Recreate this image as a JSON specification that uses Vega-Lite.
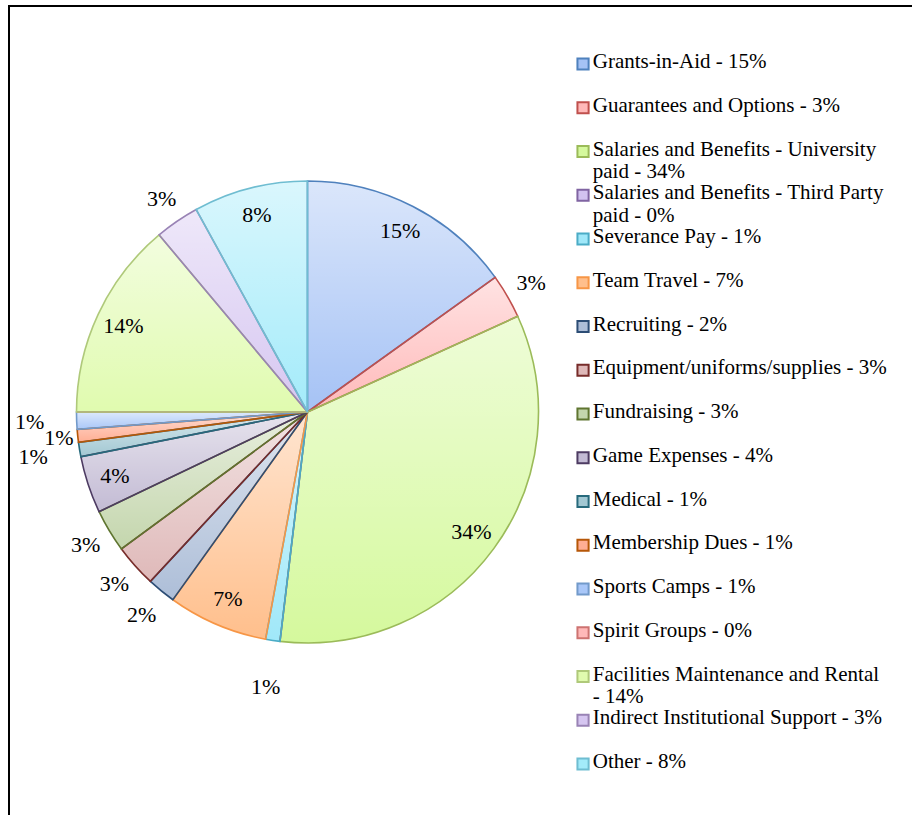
{
  "$schema": "https://vega.github.io/schema/vega-lite/v6.json",
  "width": 910,
  "height": 812,
  "padding": {"left": 9, "top": 6, "right": 0, "bottom": 0},
  "autosize": {"type": "none"},
  "background": "white",
  "config": {
    "view": {"stroke": "#000000", "strokeWidth": 2},
    "font": "Liberation Serif",
    "text": {"font": "Liberation Serif", "fontSize": 21, "color": "#000000"}
  },
  "data": {
    "values": [
      {"i": 1, "cat": "Grants-in-Aid", "value": 15.1, "pie": "15%", "leg": "Grants-in-Aid - 15%"},
      {"i": 2, "cat": "Guarantees and Options", "value": 3.1, "pie": "3%", "leg": "Guarantees and Options - 3%"},
      {"i": 3, "cat": "Salaries and Benefits - University paid", "value": 33.7, "pie": "34%", "leg": "Salaries and Benefits - University\npaid - 34%"},
      {"i": 4, "cat": "Salaries and Benefits - Third Party paid", "value": 0, "pie": "", "leg": "Salaries and Benefits - Third Party\npaid - 0%"},
      {"i": 5, "cat": "Severance Pay", "value": 1.0, "pie": "1%", "leg": "Severance Pay - 1%"},
      {"i": 6, "cat": "Team Travel", "value": 7.0, "pie": "7%", "leg": "Team Travel - 7%"},
      {"i": 7, "cat": "Recruiting", "value": 2.0, "pie": "2%", "leg": "Recruiting - 2%"},
      {"i": 8, "cat": "Equipment/uniforms/supplies", "value": 3.0, "pie": "3%", "leg": "Equipment/uniforms/supplies - 3%"},
      {"i": 9, "cat": "Fundraising", "value": 3.0, "pie": "3%", "leg": "Fundraising - 3%"},
      {"i": 10, "cat": "Game Expenses", "value": 4.0, "pie": "4%", "leg": "Game Expenses - 4%"},
      {"i": 11, "cat": "Medical", "value": 1.0, "pie": "1%", "leg": "Medical - 1%"},
      {"i": 12, "cat": "Membership Dues", "value": 0.9, "pie": "1%", "leg": "Membership Dues - 1%"},
      {"i": 13, "cat": "Sports Camps", "value": 1.2, "pie": "1%", "leg": "Sports Camps - 1%"},
      {"i": 14, "cat": "Spirit Groups", "value": 0, "pie": "", "leg": "Spirit Groups - 0%"},
      {"i": 15, "cat": "Facilities Maintenance and Rental", "value": 13.9, "pie": "14%", "leg": "Facilities Maintenance and Rental\n- 14%"},
      {"i": 16, "cat": "Indirect Institutional Support", "value": 3.1, "pie": "3%", "leg": "Indirect Institutional Support - 3%"},
      {"i": 17, "cat": "Other", "value": 8.0, "pie": "8%", "leg": "Other - 8%"}
    ]
  },
  "layer": [
    {
      "encoding": {
        "x": {"datum": 32.8, "type": "quantitative", "scale": {"domain": [0, 100], "nice": false, "zero": false}, "axis": null},
        "y": {"datum": 50, "type": "quantitative", "scale": {"domain": [0, 100], "nice": false, "zero": false}, "axis": null},
        "theta": {"field": "value", "type": "quantitative", "stack": true},
        "order": {"field": "i", "type": "quantitative"}
      },
      "layer": [
        {
          "mark": {"type": "arc", "outerRadius": 231, "strokeWidth": 0},
          "encoding": {
            "fill": {
              "field": "cat", "type": "nominal", "legend": null,
              "scale": {
                "domain": ["Grants-in-Aid", "Guarantees and Options", "Salaries and Benefits - University paid", "Salaries and Benefits - Third Party paid", "Severance Pay", "Team Travel", "Recruiting", "Equipment/uniforms/supplies", "Fundraising", "Game Expenses", "Medical", "Membership Dues", "Sports Camps", "Spirit Groups", "Facilities Maintenance and Rental", "Indirect Institutional Support", "Other"],
                "range": ["#a5c2f5", "#ffb9b9", "#d5f99d", "#d2c2f0", "#a0e8f9", "#ffbf8c", "#adbed8", "#dfb9b9", "#c4d6ad", "#c3bbd4", "#a2c8d3", "#ffae94", "#a9c7f8", "#ffb9b9", "#e0fbaf", "#d6c6f1", "#a3ebfa"]
              }
            }
          }
        },
        {
          "mark": {
            "type": "arc", "outerRadius": 231, "strokeWidth": 0,
            "fill": {"gradient": "linear", "x1": 0, "y1": 0, "x2": 0, "y2": 1, "stops": [{"offset": 0, "color": "rgba(255,255,255,0.6)"}, {"offset": 1, "color": "rgba(255,255,255,0)"}]}
          }
        },
        {
          "mark": {"type": "arc", "outerRadius": 231, "filled": false, "strokeWidth": 1.6},
          "encoding": {
            "stroke": {
              "field": "cat", "type": "nominal", "legend": null,
              "scale": {
                "domain": ["Grants-in-Aid", "Guarantees and Options", "Salaries and Benefits - University paid", "Salaries and Benefits - Third Party paid", "Severance Pay", "Team Travel", "Recruiting", "Equipment/uniforms/supplies", "Fundraising", "Game Expenses", "Medical", "Membership Dues", "Sports Camps", "Spirit Groups", "Facilities Maintenance and Rental", "Indirect Institutional Support", "Other"],
                "range": ["#4f81bd", "#c0504d", "#9bbb59", "#8064a2", "#4bacc6", "#f79646", "#2c4d75", "#772c2a", "#5f7530", "#4d3b62", "#276a7c", "#b65708", "#729aca", "#cd7371", "#afc97a", "#9983b5", "#6fbdd1"]
              }
            }
          }
        },
        {
          "mark": {"type": "text", "align": "center", "baseline": "middle", "fontSize": 22},
          "encoding": {
            "text": {"field": "pie", "type": "nominal"},
            "radius": {"field": "value", "type": "quantitative", "scale": {"domain": [0.9, 1.0, 1.2, 2.0, 3.2, 4.0], "range": [250, 278, 278, 262, 258, 203], "clamp": true, "zero": false}}
          }
        }
      ]
    },
    {
      "encoding": {
        "y": {"field": "i", "type": "quantitative", "scale": {"domain": [-0.28, 18.28], "reverse": true, "nice": false, "zero": false}, "axis": null}
      },
      "layer": [
        {
          "mark": {"type": "point", "shape": "square", "size": 125, "filled": true, "opacity": 1, "strokeWidth": 2, "yOffset": 2},
          "encoding": {
            "x": {"datum": 63.08, "type": "quantitative"},
            "fill": {"field": "cat", "type": "nominal", "legend": null},
            "stroke": {"field": "cat", "type": "nominal", "legend": null}
          }
        },
        {
          "mark": {"type": "text", "align": "left", "baseline": "top", "dy": -11, "fontSize": 21, "lineBreak": "\n", "lineHeight": 22.5},
          "encoding": {
            "x": {"datum": 64.15, "type": "quantitative"},
            "text": {"field": "leg", "type": "nominal"}
          }
        }
      ]
    }
  ],
  "resolve": {"scale": {"y": "independent"}}
}
